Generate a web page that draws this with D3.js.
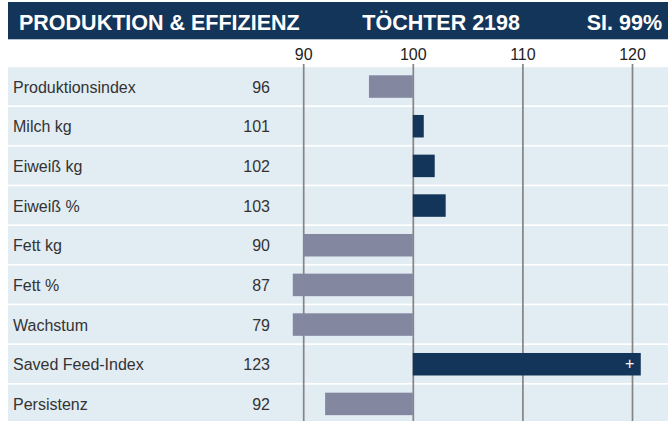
<!DOCTYPE html>
<html>
<head>
<meta charset="utf-8">
<script src="https://cdn.jsdelivr.net/npm/d3@7"></script>
<style>
  body { margin: 0; background: #fff; }
  svg { display: block; font-family: "Liberation Sans", Arial, sans-serif; }
</style>
</head>
<body>
<svg id="chart" width="668" height="421"></svg>
<script>
// data
var traits = ["Produktionsindex", "Milch kg", "Eiweiß kg", "Eiweiß %", "Fett kg", "Fett %", "Wachstum", "Saved Feed-Index", "Persistenz"];
var values = [96, 101, 102, 103, 90, 87, 79, 123, 92];
var tickValues = [90, 100, 110, 120];
var headerTexts = ["PRODUKTION & EFFIZIENZ", "TÖCHTER 2198", "SI. 99%"];

var W = 668, H = 421;
var navy = "#14355a", grey = "#8387a0", rowBg = "#e2ecf3";

var svg = d3.select("#chart");

var x = d3.scaleLinear().domain([90, 120]).range([303.2, 632]);
var y = d3.scaleBand().domain(traits).range([67.3, 67.3 + 9 * 39.67]);
// bars are cut at the plot edge
var lo = 89.05, hi = 120.8;

// header
svg.append("rect").attr("x", 8).attr("y", 2).attr("width", W - 8).attr("height", 37.3).attr("fill", navy);
var head = svg.append("g").attr("fill", "#fff").attr("font-weight", "bold").attr("font-size", "21.5px");
head.append("text").attr("x", 19).attr("y", 29.5).text(headerTexts[0]);
head.append("text").attr("x", 520).attr("y", 29.5).attr("text-anchor", "end").text(headerTexts[1]);
head.append("text").attr("x", 662).attr("y", 29.5).attr("text-anchor", "end").text(headerTexts[2]);

// row backgrounds
svg.append("g").selectAll("rect").data(traits).join("rect")
  .attr("x", 8).attr("y", function(d) { return y(d); })
  .attr("width", W - 8).attr("height", y.bandwidth() - 1.7)
  .attr("fill", rowBg);

// axis + gridlines
var axis = svg.append("g").attr("transform", "translate(0,64)")
  .call(d3.axisTop(x).tickValues(tickValues).tickSize(-(H - 64)).tickPadding(4));
axis.select(".domain").remove();
axis.selectAll("line").attr("stroke", "#858585").attr("stroke-width", 1.7);
axis.selectAll("text").attr("font-size", "16px").attr("fill", "#222").attr("font-family", "Liberation Sans, Arial, sans-serif");

// bars
var rows = svg.append("g").selectAll("g").data(traits).join("g")
  .attr("transform", function(d) { return "translate(0," + y(d) + ")"; });

rows.append("rect")
  .attr("x", function(d, i) { return x(Math.max(lo, Math.min(values[i], 100))); })
  .attr("y", 8)
  .attr("width", function(d, i) {
    var v = Math.max(lo, Math.min(hi, values[i]));
    return Math.abs(x(v) - x(100));
  })
  .attr("height", 22.5)
  .attr("fill", function(d, i) { return values[i] >= 100 ? navy : grey; });

rows.filter(function(d, i) { return values[i] > hi; })
  .append("text")
  .attr("x", x(hi) - 11).attr("y", 24.5)
  .attr("text-anchor", "middle").attr("font-size", "16px").attr("fill", "#fff")
  .text("+");

rows.append("text").attr("x", 13).attr("y", 25.5)
  .attr("font-size", "16px").attr("fill", "#333")
  .text(function(d) { return d; });

rows.append("text").attr("x", 270).attr("y", 25.5)
  .attr("text-anchor", "end").attr("font-size", "16px").attr("fill", "#333")
  .text(function(d, i) { return values[i]; });
</script>
</body>
</html>
